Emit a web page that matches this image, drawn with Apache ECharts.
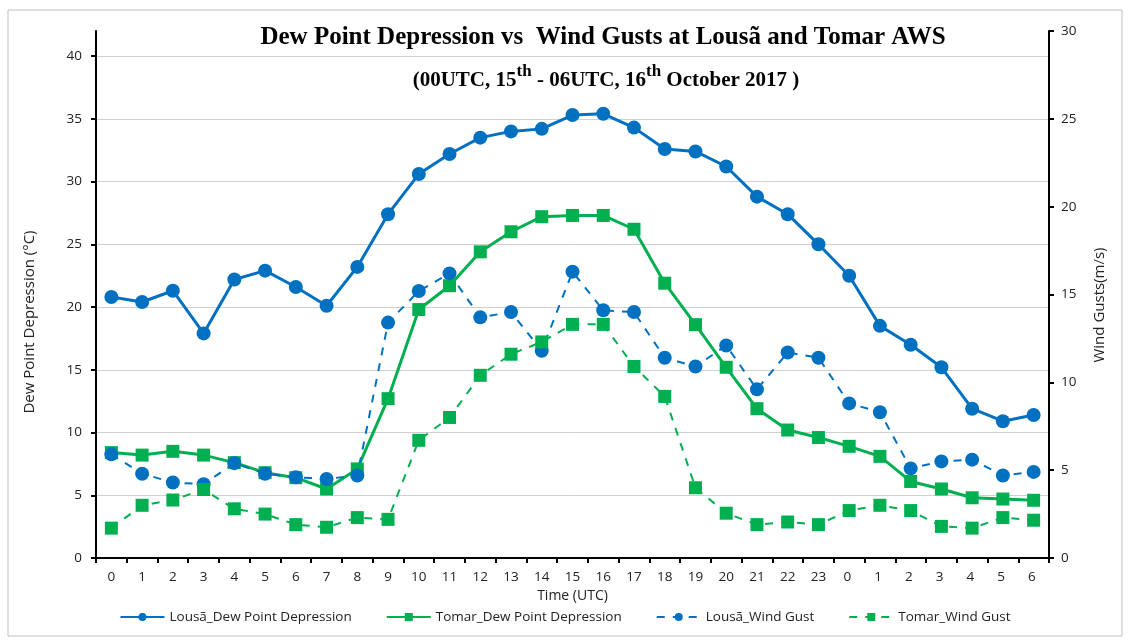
<!DOCTYPE html>
<html>
<head>
<meta charset="utf-8">
<script src="https://cdn.jsdelivr.net/npm/echarts@6/dist/echarts.min.js"></script>
<style>
  html, body { margin: 0; padding: 0; background: #fff; }
  #chart { width: 1130px; height: 641px; }
</style>
</head>
<body>
<div id="chart"></div>
<script>
// time axis labels (hours UTC, 15th 00 -> 16th 06)
var hours = ['0','1','2','3','4','5','6','7','8','9','10','11','12','13','14','15','16','17','18','19','20','21','22','23',
             '0 ','1 ','2 ','3 ','4 ','5 ','6 '];

// dew point depression (°C)
var lousaDew = [20.8, 20.4, 21.3, 17.9, 22.2, 22.9, 21.6, 20.1, 23.2, 27.4, 30.6, 32.2, 33.5, 34.0, 34.2, 35.3,
                35.4, 34.3, 32.6, 32.4, 31.2, 28.8, 27.4, 25.0, 22.5, 18.5, 17.0, 15.2, 11.9, 10.9, 11.4];
var tomarDew = [8.4, 8.2, 8.5, 8.2, 7.6, 6.8, 6.4, 5.5, 7.1, 12.7, 19.8, 21.7, 24.4, 26.0, 27.2, 27.3,
                27.3, 26.2, 21.9, 18.6, 15.2, 11.9, 10.2, 9.6, 8.9, 8.1, 6.1, 5.5, 4.8, 4.7, 4.6];

// wind gusts (m/s)
var lousaGust = [5.9, 4.8, 4.3, 4.2, 5.4, 4.8, 4.6, 4.5, 4.7, 13.4, 15.2, 16.2, 13.7, 14.0, 11.8, 16.3,
                 14.1, 14.0, 11.4, 10.9, 12.1, 9.6, 11.7, 11.4, 8.8, 8.3, 5.1, 5.5, 5.6, 4.7, 4.9];
var tomarGust = [1.7, 3.0, 3.3, 3.9, 2.8, 2.5, 1.9, 1.75, 2.3, 2.2, 6.7, 8.0, 10.4, 11.6, 12.3, 13.3,
                 13.3, 10.9, 9.2, 4.0, 2.55, 1.9, 2.05, 1.9, 2.7, 3.0, 2.7, 1.8, 1.7, 2.3, 2.15];

var BLUE = '#0070C0';
var GREEN = '#00B050';
var labelFont = 'Open Sans';
var serif = 'Liberation Serif';

var myChart = echarts.init(document.getElementById('chart'));

var option = {
    backgroundColor: '#fff',
    animation: false,
    graphic: [{
        type: 'rect',
        shape: { x: 8, y: 10, width: 1114, height: 626 },
        style: { fill: 'none', stroke: '#bfbfbf', lineWidth: 1 },
        silent: true, z: -1
    }, {
        // 标题
        type: 'text',
        x: 603, y: 38, z: 100,
        style: {
            text: 'Dew Point Depression vs  Wind Gusts at Lousã and Tomar AWS',
            fontFamily: serif, fontWeight: 'bold', fontSize: 25, fill: '#000',
            align: 'center', verticalAlign: 'middle'
        },
        silent: true
    }, {
        // 副标题（带上标）
        type: 'text',
        x: 606, y: 77, z: 100,
        style: {
            text: '{a|(00UTC, 15}{s|th}{a| - 06UTC, 16}{s|th}{a| October 2017 )}',
            align: 'center', verticalAlign: 'middle',
            rich: {
                a: { fontFamily: serif, fontWeight: 'bold', fontSize: 21, fill: '#000', verticalAlign: 'bottom', lineHeight: 28 },
                s: { fontFamily: serif, fontWeight: 'bold', fontSize: 17, fill: '#000', verticalAlign: 'top', lineHeight: 28, padding: [0, 0, 10, 0] }
            }
        },
        silent: true
    }, {
        type: 'text',
        x: 30, y: 322, rotation: Math.PI / 2,
        style: { text: 'Dew Point Depression (°C)', fontFamily: labelFont, fontSize: 15, fill: '#222', align: 'center', verticalAlign: 'middle' },
        silent: true
    }, {
        type: 'text',
        x: 1100, y: 305, rotation: Math.PI / 2,
        style: { text: 'Wind Gusts(m/s)', fontFamily: labelFont, fontSize: 15, fill: '#222', align: 'center', verticalAlign: 'middle' },
        silent: true
    }],
    legend: {
        bottom: 12,
        left: 'center',
        itemWidth: 44,
        itemHeight: 10,
        itemGap: 34,
        textStyle: { fontFamily: labelFont, fontSize: 13.5, color: '#222' },
        data: ['Lousã_Dew Point Depression', 'Tomar_Dew Point Depression', 'Lousã_Wind Gust', 'Tomar_Wind Gust']
    },
    grid: { left: 96, right: 81, top: 31, bottom: 83 },
    xAxis: {
        type: 'category',
        data: hours,
        boundaryGap: true,
        name: 'Time (UTC)',
        nameLocation: 'middle',
        nameGap: 30,
        nameTextStyle: { fontFamily: labelFont, fontSize: 14, color: '#222' },
        axisLine: { lineStyle: { color: '#000', width: 2 } },
        axisTick: { show: true, length: 5, lineStyle: { color: '#000', width: 2 } },
        axisLabel: { fontFamily: labelFont, fontSize: 13.5, color: '#222', margin: 12, interval: 0 }
    },
    yAxis: [{
        type: 'value',
        min: 0, max: 42, interval: 5,
        axisLine: { show: true, lineStyle: { color: '#000', width: 2 } },
        axisTick: { show: true, length: 5, lineStyle: { color: '#000', width: 2 } },
        axisLabel: { fontFamily: labelFont, fontSize: 13.5, color: '#222', margin: 14, showMaxLabel: false },
        splitLine: { show: true, showMaxLine: false, lineStyle: { color: '#d0d0d0', width: 1 } }
    }, {
        type: 'value',
        min: 0, max: 30, interval: 5,
        axisLine: { show: true, lineStyle: { color: '#000', width: 2 } },
        axisTick: { show: true, length: 5, lineStyle: { color: '#000', width: 2 } },
        axisLabel: { fontFamily: labelFont, fontSize: 13.5, color: '#222', margin: 12 },
        splitLine: { show: false }
    }],
    series: [{
        name: 'Lousã_Dew Point Depression',
        type: 'line',
        yAxisIndex: 0,
        data: lousaDew,
        symbol: 'circle',
        symbolSize: 14,
        itemStyle: { color: BLUE },
        lineStyle: { color: BLUE, width: 3 }
    }, {
        name: 'Tomar_Dew Point Depression',
        type: 'line',
        yAxisIndex: 0,
        data: tomarDew,
        symbol: 'rect',
        symbolSize: 13,
        itemStyle: { color: GREEN },
        lineStyle: { color: GREEN, width: 3 }
    }, {
        name: 'Lousã_Wind Gust',
        type: 'line',
        yAxisIndex: 1,
        data: lousaGust,
        symbol: 'circle',
        symbolSize: 14,
        itemStyle: { color: BLUE },
        lineStyle: { color: BLUE, width: 2, type: [8, 8] }
    }, {
        name: 'Tomar_Wind Gust',
        type: 'line',
        yAxisIndex: 1,
        data: tomarGust,
        symbol: 'rect',
        symbolSize: 13,
        itemStyle: { color: GREEN },
        lineStyle: { color: GREEN, width: 2, type: [8, 8] }
    }]
};

myChart.setOption(option, true);
</script>
</body>
</html>
